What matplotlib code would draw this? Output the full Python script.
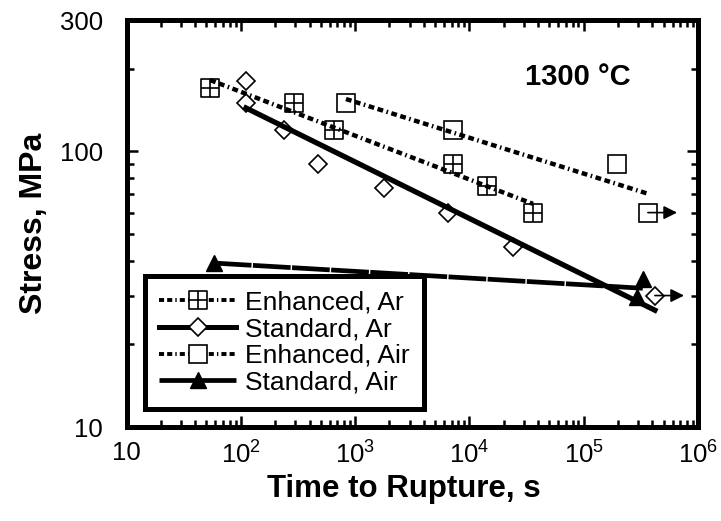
import numpy as np
import matplotlib.pyplot as plt
from matplotlib.lines import Line2D
from matplotlib.path import Path
from matplotlib.ticker import FixedLocator, FuncFormatter, NullFormatter

plt.rcParams['font.family'] = ['Liberation Sans', 'DejaVu Sans']

# rupture time (s) and stress (MPa)
enh_ar_t = [54, 292, 654, 7190, 14300, 36000]
enh_ar_s = [170, 150, 120, 90, 75, 60]

std_ar_t = [111, 111, 239, 474, 1790, 6500, 24000, 420000]
std_ar_s = [180, 150, 120, 90, 74, 60, 45, 30]

enh_air_t = [832, 7190, 195000, 365000]
enh_air_s = [150, 120, 90, 60]

std_air_t = [58, 292000, 330000]
std_air_s = [39.4, 29.6, 34.4]

# runouts (test stopped before failure)
runout_t = [365000, 420000]
runout_s = [60, 30]

labels = ['Enhanced, Ar', 'Standard, Ar', 'Enhanced, Air', 'Standard, Air']

x_ticks = [10, 1e2, 1e3, 1e4, 1e5, 1e6]
y_ticks = [10, 100, 300]
y_minor = [20, 30, 40, 50, 60, 70, 80, 90, 200]


def fit(t, s):
    # power law fit, drawn over the range of the data
    p = np.polyfit(np.log10(t), np.log10(s), 1)
    tt = np.array([min(t), max(t)])
    return tt, 10 ** np.polyval(p, np.log10(tt))


# square with a cross in it
boxplus = Path([(-1, -1), (1, -1), (1, 1), (-1, 1), (-1, -1), (0, -1), (0, 1), (-1, 0), (1, 0)],
               [Path.MOVETO, Path.LINETO, Path.LINETO, Path.LINETO, Path.CLOSEPOLY,
                Path.MOVETO, Path.LINETO, Path.MOVETO, Path.LINETO])

enh_dash = (1.3, 0.8, 1.3, 0.8, 0.35, 0.8)
std_air_dash = (8, 0.3)

fig = plt.figure(figsize=(7.21, 5.21), dpi=100)
ax = fig.add_axes([0.1755, 0.1804, 0.7925, 0.7812])

# fit lines
t, s = fit(enh_ar_t, enh_ar_s)
ax.plot(t, s, color='k', lw=3.2, dashes=enh_dash)
t, s = fit(std_ar_t, std_ar_s)
ax.plot(t, s, color='k', lw=3.8)
t, s = fit(enh_air_t, enh_air_s)
ax.plot(t, s, color='k', lw=3.2, dashes=enh_dash)
t, s = fit(std_air_t, std_air_s)
ax.plot(t, s, color='k', lw=3.4, dashes=std_air_dash)

# data points
ax.plot(enh_ar_t, enh_ar_s, ls='none', marker=boxplus, ms=13, mfc='none', mec='k', mew=1.2)
ax.plot(std_ar_t, std_ar_s, ls='none', marker='D', ms=9, mfc='none', mec='k', mew=1.2)
ax.plot(enh_air_t, enh_air_s, ls='none', marker='s', ms=13, mfc='none', mec='k', mew=1.2)
ax.plot(std_air_t, std_air_s, ls='none', marker='^', ms=12, mfc='k', mec='k')

for rt, rs in zip(runout_t, runout_s):
    ax.annotate('', xy=(rt * 1.8, rs), xytext=(rt, rs),
                arrowprops=dict(arrowstyle='-|>', color='k', lw=1.2, mutation_scale=20,
                                shrinkA=0, shrinkB=0))

ax.text(0.79, 0.86, '1300 °C', transform=ax.transAxes, fontsize=21, fontweight='bold',
        ha='center', va='center')

ax.set_xscale('log')
ax.set_yscale('log')
ax.set_xlim(10, 1e6)
ax.set_ylim(10, 300)

ax.xaxis.set_major_locator(FixedLocator(x_ticks))
ax.xaxis.set_major_formatter(FuncFormatter(
    lambda v, p: '10' if v == 10 else r'$\mathregular{10^{%d}}$' % round(np.log10(v))))
ax.xaxis.set_minor_formatter(NullFormatter())
ax.yaxis.set_major_locator(FixedLocator(y_ticks))
ax.yaxis.set_major_formatter(FuncFormatter(lambda v, p: '%d' % v))
ax.yaxis.set_minor_locator(FixedLocator(y_minor))
ax.yaxis.set_minor_formatter(NullFormatter())

ax.tick_params(which='both', direction='in', top=True, right=True, width=1.8, labelsize=18.5)
ax.tick_params(which='major', length=8)
ax.tick_params(which='minor', length=5)
ax.tick_params(axis='x', pad=10)
ax.tick_params(axis='y', pad=17)
for sp in ax.spines.values():
    sp.set_linewidth(3.6)

ax.set_xlabel('Time to Rupture, s', fontsize=22.5, fontweight='bold')
ax.xaxis.set_label_coords(0.486, -0.115)
ax.set_ylabel('Stress, MPa', fontsize=23, fontweight='bold', labelpad=8)

handles = [
    Line2D([], [], color='k', lw=2.8, dashes=enh_dash, marker=boxplus, ms=13, mfc='w', mec='k', mew=1.2),
    Line2D([], [], color='k', lw=3.6, marker='D', ms=9, mfc='w', mec='k', mew=1.2),
    Line2D([], [], color='k', lw=2.8, dashes=enh_dash, marker='s', ms=13, mfc='w', mec='k', mew=1.2),
    Line2D([], [], color='k', lw=3.4, dashes=std_air_dash, marker='^', ms=12, mfc='k', mec='k'),
]
leg = ax.legend(handles, labels, loc='lower left', bbox_to_anchor=(0.032, 0.044), borderaxespad=0,
                fontsize=19, handlelength=2.9, handletextpad=0.35, labelspacing=0.1,
                borderpad=0.55, fancybox=False, framealpha=1, edgecolor='k')
leg.get_frame().set_linewidth(3.6)

fig.savefig('out.png', dpi=100)
